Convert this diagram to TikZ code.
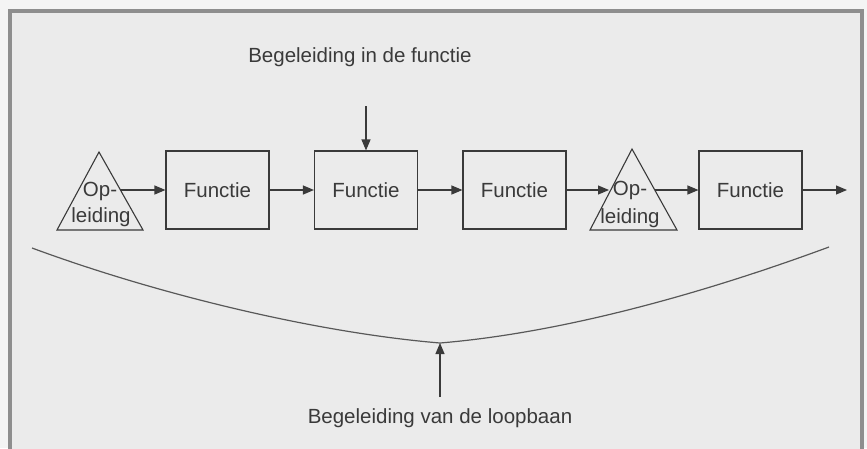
\documentclass[tikz,border=0pt]{standalone}
\usepackage{fontspec}
\setmainfont{Liberation Sans}
\usetikzlibrary{arrows.meta}
\definecolor{outerbg}{HTML}{F4F4F4}
\definecolor{innerbg}{HTML}{EBEBEB}
\definecolor{framec}{HTML}{8E8E8E}
\definecolor{inkc}{HTML}{3A3A3A}
\tikzset{
  funcbox/.style={draw=inkc, line width=1.1pt, minimum width=103pt, minimum height=78pt, inner sep=0pt, text=inkc, font=\fontsize{20.5}{22}\selectfont},
  tri/.style={draw=inkc, line width=1.1pt, line join=miter},
  lbl/.style={text=inkc, font=\fontsize{20.5}{22}\selectfont, inner sep=0pt},
  flow/.style={draw=inkc, line width=1.1pt, -{Triangle[length=11pt,width=9pt]}},
  curvec/.style={draw=inkc!85, line width=1.2pt}
}
\begin{document}
\begin{tikzpicture}[x=1pt,y=-1pt]
\useasboundingbox (0,0) rectangle (867,448);
\fill[outerbg] (0,0) rectangle (867,448);
\fill[innerbg] (10,11) rectangle (862,452);
\draw[framec, line width=4pt] (10,460) -- (10,11) -- (862,11) -- (862,460);

% triangles
\draw[tri] (57,230) -- (99,152) -- (143,230) -- cycle;
\draw[tri] (590,230) -- (632,149) -- (677,230) -- cycle;
\node[lbl] (t1a) at (100,191) {Op-};
\node[lbl] (t1b) at (101,217) {leiding};
\node[lbl] (t2a) at (630,190) {Op-};
\node[lbl] (t2b) at (630,218) {leiding};
\coordinate (t1r) at (120,190);
\coordinate (t2l) at (609,190);
\coordinate (t2r) at (655,190);

% boxes
\node[funcbox] (b1) at (217.5,190) {Functie};
\node[funcbox] (b2) at (366,190) {Functie};
\node[funcbox] (b3) at (514.5,190) {Functie};
\node[funcbox] (b4) at (750.5,190) {Functie};
\coordinate (endp) at (847,190);

\draw[flow] (t1r) -- (b1.west);
\draw[flow] (b1.east) -- (b2.west);
\draw[flow] (b2.east) -- (b3.west);
\draw[flow] (b3.east) -- (t2l);
\draw[flow] (t2r) -- (b4.west);
\draw[flow] (b4.east) -- (endp);

% top label
\node[lbl] (top) at (360,57) {Begeleiding in de functie};
\coordinate (topa) at (366,106);
\draw[flow] (topa) -- (b2.north);

% career curve
\coordinate (cl) at (32,248);
\coordinate (cb) at (440,343);
\coordinate (cr) at (829,247);
\draw[curvec] (cl) .. controls (162,296) and (320,333) .. (cb)
  .. controls (560,333) and (699,295) .. (cr);

% bottom label
\node[lbl] (bot) at (440,418) {Begeleiding van de loopbaan};
\coordinate (bota) at (440,397);
\draw[flow] (bota) -- (cb);
\end{tikzpicture}
\end{document}
